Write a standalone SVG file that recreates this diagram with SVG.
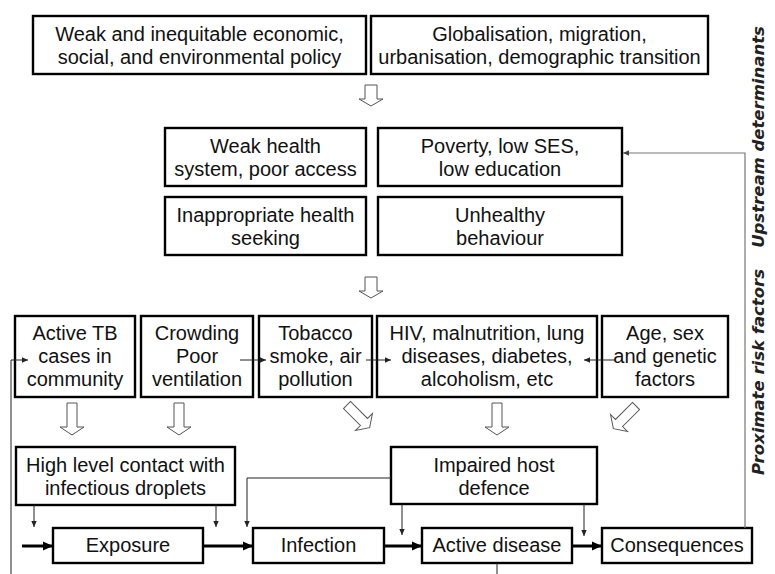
<svg xmlns="http://www.w3.org/2000/svg" xmlns:xlink="http://www.w3.org/1999/xlink" width="775" height="574" viewBox="0 0 775 574">
<style>
.box{fill:#fff;stroke:#000;stroke-width:2.4}
.t{font-family:"Liberation Sans",Arial,sans-serif;font-size:20px;fill:#111;text-anchor:middle}
.side{font-family:"DejaVu Sans",Verdana,sans-serif;font-size:16.5px;font-weight:bold;font-style:italic;fill:#222;text-anchor:middle}
.thin{stroke:#222;stroke-width:1;fill:none}
.fb{stroke:#777;stroke-width:1.2;fill:none}
.thick{stroke:#000;stroke-width:3;fill:none}
.hollow{fill:#fff;stroke:#555;stroke-width:1}
</style>
<defs>
<marker id="ah" viewBox="0 0 10 10" refX="10" refY="5" markerWidth="7" markerHeight="6" markerUnits="userSpaceOnUse" orient="auto"><path d="M0,0.5 L10,5 L0,9.5 Z" fill="#222"/></marker>
<marker id="ahg" viewBox="0 0 10 10" refX="10" refY="5" markerWidth="7" markerHeight="6" markerUnits="userSpaceOnUse" orient="auto"><path d="M0,0.5 L10,5 L0,9.5 Z" fill="#444"/></marker>
<marker id="ahB" viewBox="0 0 10 10" refX="10" refY="5" markerWidth="11" markerHeight="10" markerUnits="userSpaceOnUse" orient="auto"><path d="M0,0.5 L10,5 L0,9.5 Z" fill="#000"/></marker>
<path id="hS" class="hollow" d="M-6,0 H6 V14 H12 L0,21 L-12,14 H-6 Z"/>
<path id="hL" class="hollow" d="M-5,0 H5 V24 H12 L0,32 L-12,24 H-5 Z"/>
</defs>

<g id="policy"><rect class="box" x="33" y="16" width="333" height="58"/><text class="t" x="199.5" y="41">Weak and inequitable economic,</text><text class="t" x="199.5" y="64">social, and environmental policy</text></g>
<g id="globalisation"><rect class="box" x="371" y="16" width="337" height="58"/><text class="t" x="539.5" y="41">Globalisation, migration,</text><text class="t" x="539.5" y="64">urbanisation, demographic transition</text></g>

<g id="health-system"><rect class="box" x="165" y="128" width="201" height="58"/><text class="t" x="265.5" y="153">Weak health</text><text class="t" x="265.5" y="176">system, poor access</text></g>
<g id="poverty"><rect class="box" x="378" y="128" width="244" height="58"/><text class="t" x="500" y="153">Poverty, low SES,</text><text class="t" x="500" y="176">low education</text></g>
<g id="health-seeking"><rect class="box" x="165" y="197" width="201" height="58"/><text class="t" x="265.5" y="222">Inappropriate health</text><text class="t" x="265.5" y="245">seeking</text></g>
<g id="behaviour"><rect class="box" x="378" y="197" width="244" height="58"/><text class="t" x="500" y="222">Unhealthy</text><text class="t" x="500" y="245">behaviour</text></g>

<g id="active-tb"><rect class="box" x="15" y="316" width="120" height="81"/><text class="t" x="75" y="340">Active TB</text><text class="t" x="75" y="363">cases in</text><text class="t" x="75" y="386">community</text></g>
<g id="crowding"><rect class="box" x="141" y="316" width="112" height="81"/><text class="t" x="197" y="340">Crowding</text><text class="t" x="197" y="363">Poor</text><text class="t" x="197" y="386">ventilation</text></g>
<g id="tobacco"><rect class="box" x="259" y="316" width="113" height="81"/><text class="t" x="315.5" y="340">Tobacco</text><text class="t" x="315.5" y="363">smoke, air</text><text class="t" x="315.5" y="386">pollution</text></g>
<g id="hiv"><rect class="box" x="377" y="316" width="220" height="81"/><text class="t" x="487" y="340">HIV, malnutrition, lung</text><text class="t" x="487" y="363">diseases, diabetes,</text><text class="t" x="487" y="386">alcoholism, etc</text></g>
<g id="age"><rect class="box" x="602" y="316" width="126" height="81"/><text class="t" x="665" y="340">Age, sex</text><text class="t" x="665" y="363">and genetic</text><text class="t" x="665" y="386">factors</text></g>

<g id="contact"><rect class="box" x="16" y="447" width="219" height="58"/><text class="t" x="125.5" y="472">High level contact with</text><text class="t" x="125.5" y="495">infectious droplets</text></g>
<g id="host-defence"><rect class="box" x="391" y="447" width="206" height="57"/><text class="t" x="494" y="472">Impaired host</text><text class="t" x="494" y="495">defence</text></g>

<g id="exposure"><rect class="box" x="53" y="528" width="150" height="35"/><text class="t" x="128" y="552">Exposure</text></g>
<g id="infection"><rect class="box" x="253" y="528" width="131" height="35"/><text class="t" x="318.5" y="552">Infection</text></g>
<g id="active-disease"><rect class="box" x="422" y="528" width="150" height="35"/><text class="t" x="497" y="552">Active disease</text></g>
<g id="consequences"><rect class="box" x="602" y="528" width="150" height="35"/><text class="t" x="677" y="552">Consequences</text></g>

<g id="connectors">
<use xlink:href="#hS" href="#hS" transform="translate(371,85)"/>
<use xlink:href="#hS" href="#hS" transform="translate(371,277)"/>
<use xlink:href="#hL" href="#hL" transform="translate(72,403)"/>
<use xlink:href="#hL" href="#hL" transform="translate(179,403)"/>
<use xlink:href="#hL" href="#hL" transform="translate(347,405) rotate(-45)"/>
<use xlink:href="#hL" href="#hL" transform="translate(497,403)"/>
<use xlink:href="#hL" href="#hL" transform="translate(636,406) rotate(45)"/>
<path class="thin" d="M11,574 V360 H28" marker-end="url(#ah)"/>
<path class="thin" d="M240,360 H266" marker-end="url(#ah)"/>
<path class="thin" d="M366,360 H391" marker-end="url(#ah)"/>
<path class="thin" d="M615,360 H584" marker-end="url(#ah)"/>
<path class="thin" d="M34,505 V527" marker-end="url(#ah)"/>
<path class="thin" d="M216,505 V527" marker-end="url(#ah)"/>
<path class="thin" d="M391,478 H247 V527" marker-end="url(#ah)"/>
<path class="thin" d="M402,504 V535" marker-end="url(#ah)"/>
<path class="thin" d="M584,504 V536" marker-end="url(#ah)"/>
<path class="fb" d="M745,528 V153 H623" marker-end="url(#ahg)"/>
<path class="thin" d="M497,563 V574"/>
<path class="thick" d="M22,546 H53" marker-end="url(#ahB)"/>
<path class="thick" d="M203,546 H253" marker-end="url(#ahB)"/>
<path class="thick" d="M384,546 H422" marker-end="url(#ahB)"/>
<path class="thick" d="M572,546 H602" marker-end="url(#ahB)"/>
</g>

<text class="side" transform="translate(764,137) rotate(-90)">Upstream determinants</text>
<text class="side" transform="translate(764,372) rotate(-90)">Proximate risk factors</text>
</svg>
